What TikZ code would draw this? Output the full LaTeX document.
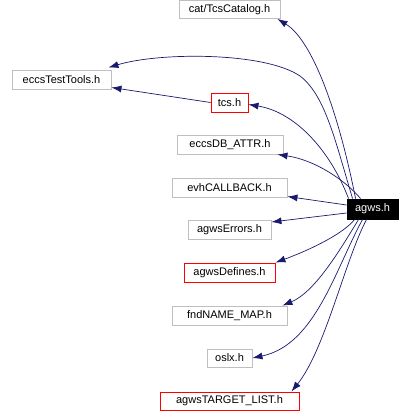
\documentclass[tikz,border=0pt]{standalone}
\usepackage{fontspec}
\setmainfont{Liberation Sans}
\usetikzlibrary{arrows.meta}
\definecolor{edgeblue}{HTML}{191970}
\definecolor{boxgray}{HTML}{BFBFBF}
\tikzset{
  box/.style={draw=boxgray, line width=0.9pt, inner sep=0pt, minimum height=19pt, font=\fontsize{11}{13}\selectfont},
  redbox/.style={box, draw=red},
  mainbox/.style={box, draw=black, fill=black, text=white},
  edge/.style={draw=edgeblue, line width=0.7pt, -{Latex[length=10pt,width=7pt]}}
}
\begin{document}
\begin{tikzpicture}[x=1pt,y=-1pt]
\useasboundingbox (0,0) rectangle (410,412);
\node[box, minimum width=101pt, minimum height=18pt] (cat) at (229.5,9.5) {cat/TcsCatalog.h};
\node[box, minimum width=99pt] (ett) at (61.5,79.5) {eccsTestTools.h};
\node[redbox, minimum width=37pt] (tcs) at (229.5,102.5) {tcs.h};
\node[box, minimum width=106pt] (db) at (230,144.5) {eccsDB\_ATTR.h};
\node[box, minimum width=115pt] (evh) at (229.5,187.5) {evhCALLBACK.h};
\node[box, minimum width=83pt] (err) at (229.5,230) {agwsErrors.h};
\node[mainbox, minimum width=51pt, minimum height=20pt] (agws) at (372.5,209) {agws.h};
\node[redbox, minimum width=91pt] (def) at (229.5,272.5) {agwsDefines.h};
\node[box, minimum width=115pt] (fnd) at (229.5,315.5) {fndNAME\_MAP.h};
\node[box, minimum width=45pt, minimum height=18pt] (oslx) at (229.5,358) {oslx.h};
\node[redbox, minimum width=139pt, minimum height=18pt] (tl) at (229.5,401) {agwsTARGET\_LIST.h};

\draw[edge] ([xshift=9pt]agws.north west) .. controls (338,110) and (312,40) .. ([xshift=-3pt]cat.south east);
\draw[edge] ([xshift=6pt]agws.north west) .. controls (335,140) and (325,95) .. (300,76) .. controls (265,52) and (160,52) .. ([xshift=-3pt,yshift=2pt]ett.north east);
\draw[edge] ([xshift=2pt]agws.north west) .. controls (330,150) and (295,112) .. ([yshift=-2pt]tcs.east);
\draw[edge] (tcs.west) -- ([yshift=-8pt]ett.east);
\draw[edge] ([xshift=14pt]agws.north west) .. controls (345,180) and (315,160) .. ([xshift=-6pt]db.south east);
\draw[edge] ([yshift=4pt]agws.west) -- ([yshift=-9pt]evh.east);
\draw[edge] ([yshift=-4pt]agws.west) -- ([yshift=8pt]err.east);
\draw[edge] ([xshift=8pt]agws.south west) .. controls (345,232) and (315,248) .. (def.north east);
\draw[edge] ([xshift=12pt]agws.south west) .. controls (340,250) and (315,292) .. ([xshift=-5pt]fnd.north east);
\draw[edge] ([xshift=16pt]agws.south west) .. controls (335,270) and (315,345) .. (oslx.east);
\draw[edge] ([xshift=20pt]agws.south west) .. controls (345,260) and (325,350) .. ([xshift=-8pt]tl.north east);
\end{tikzpicture}
\end{document}
